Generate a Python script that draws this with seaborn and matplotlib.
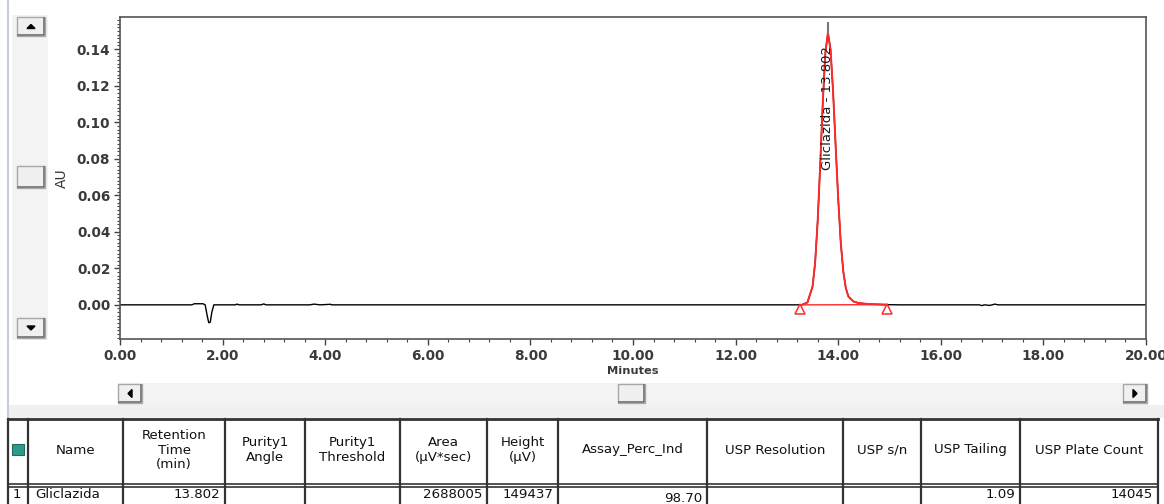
import numpy as np
import pandas as pd
import matplotlib
matplotlib.use("Agg")
import matplotlib.pyplot as plt
from matplotlib.patches import Rectangle, Polygon
from matplotlib.ticker import MultipleLocator, FormatStrFormatter
import seaborn as sns

# ---------- chromatogram trace ----------
time_min = [0.00, 1.40, 1.45, 1.62, 1.66, 1.70, 1.73, 1.76, 1.79, 1.83,
            2.25, 2.28, 2.32, 2.75, 2.80, 2.85, 3.70, 3.78, 3.90, 4.10, 4.13,
            13.20, 13.30, 13.40, 13.50, 13.55, 13.60, 13.65, 13.70, 13.75,
            13.80, 13.85, 13.90, 13.95, 14.00, 14.05, 14.10, 14.15, 14.20,
            14.30, 14.40, 14.60, 14.95, 15.20,
            16.75, 16.80, 16.85, 16.95, 17.00, 17.05, 17.12, 20.00]
au = [0.0, 0.0, 0.0006, 0.0006, 0.0, -0.006, -0.0098, -0.0095, -0.004, 0.0,
      0.0, 0.0004, 0.0, 0.0, 0.0005, 0.0, 0.0, 0.0004, 0.0, 0.0003, 0.0,
      0.0, 0.0001, 0.0013, 0.010, 0.023, 0.046, 0.077, 0.111, 0.138,
      0.149, 0.140, 0.117, 0.087, 0.058, 0.034, 0.018, 0.009, 0.0045,
      0.0018, 0.0010, 0.0004, 0.0001, 0.0,
      0.0, -0.0004, 0.0, -0.0003, 0.0, 0.0004, 0.0, 0.0]

peak_label = "Gliclazida - 13.802"
peak_rt = 13.802
peak_height = 0.149
peak_start, peak_end = 13.25, 14.95

# ---------- results table ----------
headers = ["", "Name", "Retention\nTime\n(min)", "Purity1\nAngle",
           "Purity1\nThreshold", "Area\n(µV*sec)", "Height\n(µV)",
           "Assay_Perc_Ind", "USP Resolution", "USP s/n", "USP Tailing",
           "USP Plate Count"]
row_values = ["1", "Gliclazida", "13.802", "", "", "2688005", "149437",
              "98.70", "", "", "1.09", "14045"]

col_edges = [8, 28, 123, 225, 305, 400, 487, 558, 707, 843, 921, 1020, 1158]

W, H = 1164, 504
fig = plt.figure(figsize=(W / 100, H / 100), dpi=100)
plt.rcParams["font.family"] = ["DejaVu Sans"]

# overlay in pixel coords for window chrome + table
ov = fig.add_axes([0, 0, 1, 1], zorder=0)
ov.set_xlim(0, W)
ov.set_ylim(H, 0)
ov.axis("off")

# ---------- main plot ----------
ax = fig.add_axes([120 / W, 1 - 339 / H, 1026 / W, 322 / H], zorder=2)
df = pd.DataFrame({"t": time_min, "au": au})
sns.lineplot(data=df, x="t", y="au", ax=ax, color="black", lw=1.0,
             estimator=None, sort=False)
pk = df[(df.t >= peak_start) & (df.t <= peak_end)]
sns.lineplot(data=pk, x="t", y="au", ax=ax, color="#ff2a2a", lw=1.4,
             estimator=None, sort=False)
ax.plot([peak_start, peak_end], [0.0, 0.0001], color="#ff2a2a", lw=1.0)
ax.plot([peak_start, peak_end], [-0.0025, -0.0025], ls="none", marker="^",
        ms=7, mfc="white", mec="#ff2a2a", mew=1.1)
ax.plot([peak_rt, peak_rt], [peak_height, 0.1545], color="#777777", lw=1.5)
ax.text(peak_rt - 0.02, 0.1076, peak_label, rotation=90, ha="center",
        va="center", fontsize=9.5, color="#1a1a1a")

ax.set_xlim(0, 20)
ax.set_ylim(-0.0187, 0.1576)
ax.xaxis.set_major_locator(MultipleLocator(2))
ax.xaxis.set_minor_locator(MultipleLocator(0.4))
ax.yaxis.set_major_locator(MultipleLocator(0.02))
ax.yaxis.set_minor_locator(MultipleLocator(0.002))
ax.xaxis.set_major_formatter(FormatStrFormatter("%.2f"))
ax.yaxis.set_major_formatter(FormatStrFormatter("%.2f"))
ax.set_yticks([0.0, 0.02, 0.04, 0.06, 0.08, 0.10, 0.12, 0.14])
ax.tick_params(which="major", length=4, width=1, color="#444444",
               labelsize=9.8, labelcolor="#3a3a3a", pad=3)
ax.tick_params(which="minor", length=2, width=0.8, color="#444444")
for lab in ax.get_xticklabels() + ax.get_yticklabels():
    lab.set_fontweight("bold")
for s in ax.spines.values():
    s.set_color("#555555")
    s.set_linewidth(1.2)
ax.set_xlabel("Minutes", fontsize=8.2, fontweight="bold", color="#3a3a3a",
              labelpad=2)
ax.set_ylabel("")
ov.text(62, 178, "AU", rotation=90, ha="center", va="center", fontsize=10,
        color="#333333")


# ---------- scroll bars ----------
def button(x0, y0, w, h, arrow=None):
    ov.add_patch(Rectangle((x0, y0), w, h, fc="#f0f0f0", ec="#a8a8a8", lw=1))
    ov.plot([x0 + 1, x0 + w - 1, x0 + w - 1], [y0 + h - 1, y0 + h - 1, y0 + 1],
            color="#707070", lw=1.2)
    cx, cy = x0 + w / 2, y0 + h / 2
    tri = {"up": [(cx - 4, cy + 2), (cx + 4, cy + 2), (cx, cy - 2)],
           "down": [(cx - 4, cy - 2), (cx + 4, cy - 2), (cx, cy + 2)],
           "left": [(cx + 2, cy - 4), (cx + 2, cy + 4), (cx - 2, cy)],
           "right": [(cx - 2, cy - 4), (cx - 2, cy + 4), (cx + 2, cy)]}
    if arrow:
        ov.add_patch(Polygon(tri[arrow], closed=True, fc="black", ec="black"))


ov.plot([8, 8], [0, 418], color="#c5cfdc", lw=1.5)
ov.add_patch(Rectangle((12, 15), 36, 325, fc="#f3f3f3", ec="none"))
button(17, 17, 28, 19, "up")
button(17, 166, 28, 22)
button(17, 318, 28, 20, "down")

ov.add_patch(Rectangle((118, 383), 1030, 22, fc="#f3f3f3", ec="none"))
button(118, 384, 24, 19, "left")
button(618, 384, 27, 19)
button(1123, 384, 24, 19, "right")

ov.add_patch(Rectangle((9, 405), W, 13, fc="#f0f0f0", ec="none"))

# ---------- table ----------
top, mid, bot = 419, 484, 505
ov.plot([col_edges[0], col_edges[-1]], [top, top], color="#333333", lw=2)
ov.plot([col_edges[0], col_edges[-1]], [mid, mid], color="#333333", lw=1.2)
ov.plot([col_edges[0], col_edges[-1]], [mid + 2.5, mid + 2.5],
        color="#333333", lw=1.2)
for x in col_edges:
    ov.plot([x, x], [top, bot], color="#333333", lw=1.6)
ov.add_patch(Rectangle((12, 444), 12, 11, fc="#2e9a8a", ec="#1f6b60", lw=0.8))

fs = 9.6
for i, h in enumerate(headers):
    cx = (col_edges[i] + col_edges[i + 1]) / 2
    ov.text(cx, 450, h, ha="center", va="center", fontsize=fs,
            color="#111111", linespacing=1.12)

for i, v in enumerate(row_values):
    if not v:
        continue
    if i == 0:
        ov.text(col_edges[i] + 5, 494, v, ha="left", va="center",
                fontsize=fs, color="#111111")
    elif i == 1:
        ov.text(col_edges[i] + 7, 494, v, ha="left", va="center",
                fontsize=fs, color="#111111")
    else:
        yy = 498 if headers[i] == "Assay_Perc_Ind" else 494
        ov.text(col_edges[i + 1] - 5, yy, v, ha="right", va="center",
                fontsize=fs, color="#111111")

fig.savefig("out.png", dpi=100)
